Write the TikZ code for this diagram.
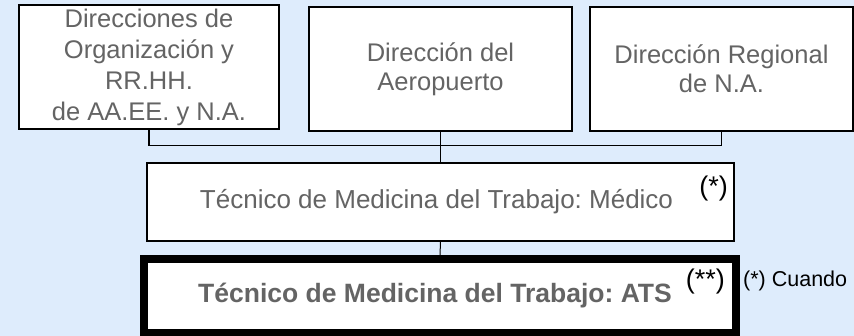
\documentclass[tikz,border=0pt]{standalone}
\usepackage{fontspec}
\setmainfont{Liberation Sans}
\definecolor{fondo}{RGB}{222,236,252}
\definecolor{gristexto}{RGB}{100,100,100}
\tikzset{
  caja/.style={draw=black, fill=white, line width=1.5pt, inner sep=0pt, align=center, text=gristexto},
  nota/.style={inner sep=0pt, text=black, font=\fontsize{27}{27}\selectfont},
  linea/.style={line width=1.5pt}
}
\frenchspacing
\begin{document}
\begin{tikzpicture}[x=1pt,y=-1pt]
\fill[fondo] (0,0) rectangle (854,336);
\useasboundingbox (0,0) rectangle (854,336);
% direcciones
\node[caja, minimum width=260pt, minimum height=124pt, font=\fontsize{25.5}{31}\selectfont] (dirorg) at (149,67) {Direcciones de\\Organización y\\RR.HH.\\de AA.EE. y N.A.};
\node[caja, minimum width=263pt, minimum height=124pt, font=\fontsize{25.5}{29}\selectfont] (diraer) at (440.5,69) {Dirección del\\Aeropuerto};
\node[caja, minimum width=263pt, minimum height=124pt, font=\fontsize{25.5}{29}\selectfont] (dirreg) at (721.5,69) {Dirección Regional\\de N.A.};
% tecnicos
\node[caja, minimum width=587pt, minimum height=78pt, font=\fontsize{26}{30}\selectfont] (medico) at (440.5,202) {Técnico de Medicina del Trabajo: Médico\kern8pt};
\node[caja, line width=8pt, minimum width=592pt, minimum height=74pt, font=\bfseries\fontsize{26.5}{30}\selectfont] (ats) at (440,296) {Técnico de Medicina del Trabajo: ATS\kern10pt};
\node[nota, anchor=north east] (astmed) at (728,176) {(*)};
\node[nota, anchor=north east] (astats) at (725,269) {(**)};
\node[anchor=base west, inner sep=0pt, font=\fontsize{21.5}{21.5}\selectfont] (cuando) at (743,287) {(*) Cuando};
% lineas
\draw[linea] (dirorg.south) -- ++(0,16) -| (dirreg.south);
\draw[linea] (diraer.south) -- (medico.north);
\draw[line width=1pt] (medico.south) -- (ats.north);
\end{tikzpicture}
\end{document}
